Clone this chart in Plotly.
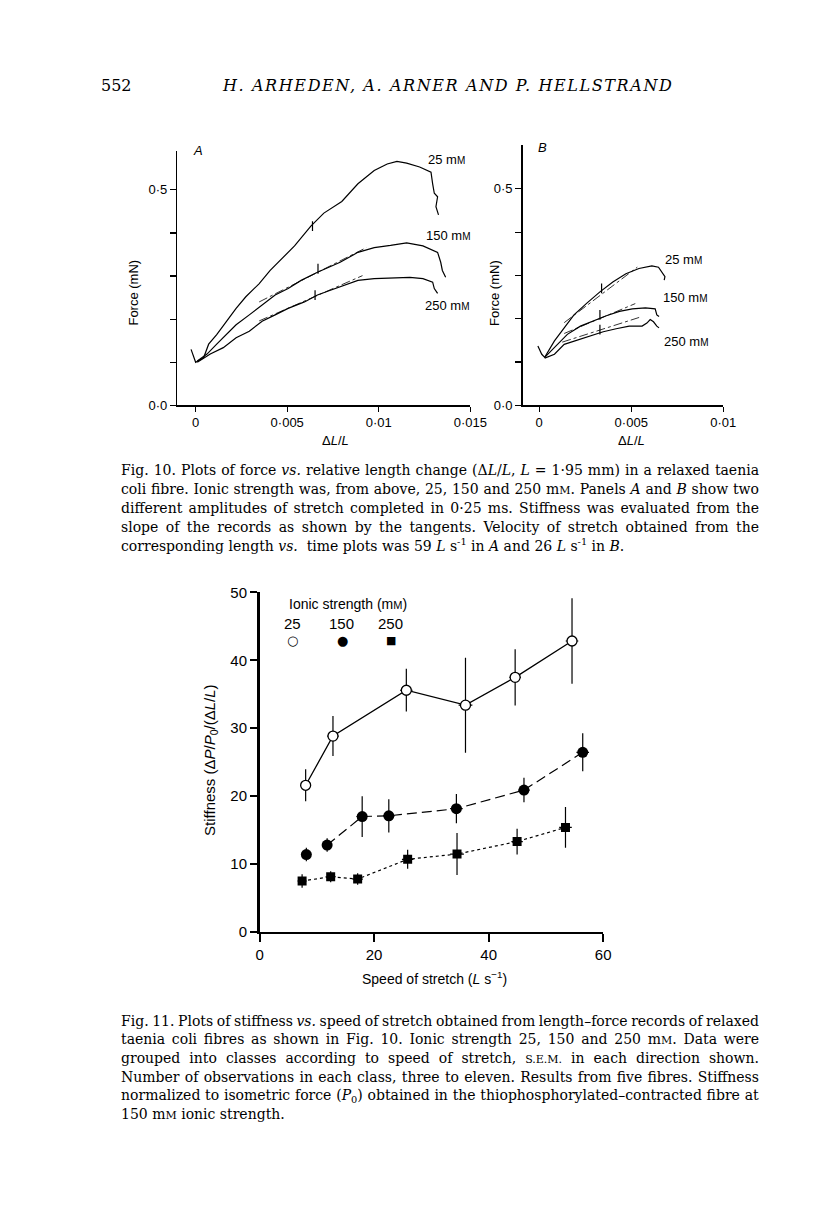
import json
import plotly.graph_objects as go

W, H = 816, 1219

# ---------------- Fig. 10 A : force (mN) vs ΔL/L ----------------
a25_x = [-0.00025, -0.00009, 0.0, 0.00044, 0.00071, 0.00115, 0.00168, 0.00221, 0.00274, 0.00346,
         0.00407, 0.00470, 0.00540, 0.00629, 0.00700, 0.00798, 0.00886, 0.00975, 0.01046, 0.01099,
         0.01152, 0.01223, 0.01285, 0.01294, 0.01303, 0.01321, 0.01312, 0.01326]
a25_y = [0.130, 0.107, 0.100, 0.111, 0.142, 0.164, 0.195, 0.225, 0.252, 0.282,
         0.313, 0.339, 0.370, 0.416, 0.446, 0.473, 0.514, 0.545, 0.560, 0.566,
         0.562, 0.553, 0.541, 0.514, 0.492, 0.484, 0.461, 0.442]
a150_x = [0.00009, 0.00062, 0.00115, 0.00168, 0.00221, 0.00293, 0.00363, 0.00434, 0.00505, 0.00576,
          0.00665, 0.00789, 0.00886, 0.00975, 0.01064, 0.01152, 0.01241, 0.01321, 0.01338, 0.01347, 0.01365]
a150_y = [0.103, 0.119, 0.142, 0.164, 0.187, 0.210, 0.233, 0.256, 0.271, 0.290,
          0.309, 0.332, 0.355, 0.366, 0.371, 0.377, 0.370, 0.355, 0.332, 0.313, 0.297]
a250_x = [0.00009, 0.00080, 0.00151, 0.00221, 0.00293, 0.00363, 0.00434, 0.00505, 0.00594, 0.00665,
          0.00736, 0.00789, 0.00886, 0.00975, 0.01064, 0.01170, 0.01241, 0.01294, 0.01303, 0.01321]
a250_y = [0.100, 0.119, 0.134, 0.157, 0.172, 0.195, 0.210, 0.225, 0.240, 0.256,
          0.267, 0.275, 0.290, 0.294, 0.295, 0.297, 0.294, 0.286, 0.271, 0.260]
a_tan150_x = [0.00347, 0.00932]
a_tan150_y = [0.240, 0.366]
a_tan250_x = [0.00347, 0.00911]
a_tan250_y = [0.196, 0.301]
a_mark_x = [0.00638, 0.00668, 0.00652]
a_mark_y = [0.416, 0.317, 0.256]

# ---------------- Fig. 10 B ----------------
b25_x = [-0.00007, 0.00014, 0.00030, 0.00083, 0.00136, 0.00189, 0.00259, 0.00330, 0.00400, 0.00471,
         0.00542, 0.00612, 0.00648, 0.00665, 0.00683, 0.00679]
b25_y = [0.137, 0.118, 0.111, 0.149, 0.179, 0.209, 0.236, 0.262, 0.285, 0.304,
         0.316, 0.322, 0.319, 0.308, 0.297, 0.289]
b150_x = [0.00030, 0.00101, 0.00153, 0.00224, 0.00295, 0.00365, 0.00436, 0.00506, 0.00577, 0.00630,
          0.00639, 0.00651]
b150_y = [0.111, 0.141, 0.164, 0.183, 0.196, 0.207, 0.217, 0.223, 0.225, 0.223, 0.209, 0.205]
b250_x = [0.00030, 0.00083, 0.00136, 0.00206, 0.00277, 0.00348, 0.00418, 0.00489, 0.00559, 0.00585,
          0.00603, 0.00621, 0.00639, 0.00651]
b250_y = [0.109, 0.118, 0.141, 0.150, 0.160, 0.170, 0.177, 0.183, 0.183, 0.190,
          0.198, 0.193, 0.183, 0.179]
b_tan25_x = [0.00136, 0.00533]
b_tan25_y = [0.191, 0.319]
b_tan150_x = [0.00136, 0.00522]
b_tan150_y = [0.166, 0.235]
b_tan250_x = [0.00125, 0.00543]
b_tan250_y = [0.146, 0.203]
b_mark_x = [0.00339, 0.00330, 0.00330]
b_mark_y = [0.270, 0.209, 0.175]

# ---------------- Fig. 11 : stiffness vs speed of stretch ----------------
s25_x = [8.05, 12.82, 25.63, 35.96, 44.63, 54.56]
s25_y = [21.6, 28.85, 35.6, 33.4, 37.5, 42.85]
s25_ey = [2.35, 2.95, 3.15, 7.0, 4.15, 6.3]
s25_ex = [0.8, 1.0, 1.1, 1.2, 1.0, 1.1]

s150_x = [8.17, 11.80, 17.92, 22.57, 34.37, 46.17, 56.43]
s150_y = [11.4, 12.8, 17.0, 17.1, 18.15, 20.9, 26.45]
s150_ey = [1.0, 1.0, 3.0, 2.45, 2.15, 1.8, 2.8]
s150_ex = [0.6, 0.8, 1.0, 1.0, 1.1, 1.0, 1.1]

s250_x = [7.43, 12.42, 17.13, 25.86, 34.48, 44.97, 53.42]
s250_y = [7.5, 8.13, 7.79, 10.7, 11.47, 13.31, 15.39]
s250_ey = [1.0, 0.8, 0.85, 1.4, 3.1, 1.9, 3.0]
s250_ex = [0.8, 0.9, 0.9, 1.0, 1.2, 1.0, 1.1]

a_xticks = [0, 0.005, 0.01, 0.015]
a_xtext = ["0", "0·005", "0·01", "0·015"]
b_xticks = [0, 0.005, 0.01]
b_xtext = ["0", "0·005", "0·01"]
f_yticks = [0, 0.5]
f_ytext = ["0·0", "0·5"]
s_xticks = [0, 20, 40, 60]
s_yticks = [0, 10, 20, 30, 40, 50]

SANS = "Liberation Sans"
SERIF = "DejaVu Serif"
MM = "m<span style='font-size:10px'>M</span>"
MM14 = "m<span style='font-size:11px'>M</span>"


def px(x):
    return x / W


def py(y):
    return 1 - y / H


fig = go.Figure()

rec = dict(mode="lines", line=dict(color="black", width=1.2), hoverinfo="skip")
tan = dict(mode="lines", line=dict(color="black", width=0.8, dash="dashdot"), hoverinfo="skip")
mk = dict(mode="markers", marker=dict(symbol="line-ns", size=7, line=dict(color="black", width=1.2)))

for xs, ys in [(a25_x, a25_y), (a150_x, a150_y), (a250_x, a250_y)]:
    fig.add_trace(go.Scatter(x=xs, y=ys, xaxis="x", yaxis="y", **rec))
for xs, ys in [(a_tan150_x, a_tan150_y), (a_tan250_x, a_tan250_y)]:
    fig.add_trace(go.Scatter(x=xs, y=ys, xaxis="x", yaxis="y", **tan))
fig.add_trace(go.Scatter(x=a_mark_x, y=a_mark_y, xaxis="x", yaxis="y", **mk))

for xs, ys in [(b25_x, b25_y), (b150_x, b150_y), (b250_x, b250_y)]:
    fig.add_trace(go.Scatter(x=xs, y=ys, xaxis="x2", yaxis="y2", **rec))
for xs, ys in [(b_tan25_x, b_tan25_y), (b_tan150_x, b_tan150_y), (b_tan250_x, b_tan250_y)]:
    fig.add_trace(go.Scatter(x=xs, y=ys, xaxis="x2", yaxis="y2", **tan))
fig.add_trace(go.Scatter(x=b_mark_x, y=b_mark_y, xaxis="x2", yaxis="y2", **mk))

fig.add_trace(go.Scatter(x=s25_x, y=s25_y, xaxis="x3", yaxis="y3", mode="lines",
                         line=dict(color="black", width=1.3)))
fig.add_trace(go.Scatter(x=s150_x[1:], y=s150_y[1:], xaxis="x3", yaxis="y3", mode="lines",
                         line=dict(color="black", width=1.2, dash="10px,5px")))
fig.add_trace(go.Scatter(x=s250_x, y=s250_y, xaxis="x3", yaxis="y3", mode="lines",
                         line=dict(color="black", width=1.2, dash="3px,3px")))


def err(vals):
    return dict(type="data", array=vals, visible=True, color="black", thickness=1.2, width=0)


fig.add_trace(go.Scatter(x=s25_x, y=s25_y, xaxis="x3", yaxis="y3", mode="markers",
                         error_y=err(s25_ey), error_x=err(s25_ex),
                         marker=dict(symbol="circle", size=10, color="white",
                                     line=dict(color="black", width=1.3))))
fig.add_trace(go.Scatter(x=s150_x, y=s150_y, xaxis="x3", yaxis="y3", mode="markers",
                         error_y=err(s150_ey), error_x=err(s150_ex),
                         marker=dict(symbol="circle", size=11, color="black")))
fig.add_trace(go.Scatter(x=s250_x, y=s250_y, xaxis="x3", yaxis="y3", mode="markers",
                         error_y=err(s250_ey), error_x=err(s250_ex),
                         marker=dict(symbol="square", size=9, color="black")))

ax_common = dict(showline=True, linecolor="black", showgrid=False, zeroline=False,
                 ticks="outside", tickcolor="black", color="black", fixedrange=True)
minor_f = dict(tickvals=[0.1, 0.2, 0.3, 0.4], ticks="outside", ticklen=6, tickwidth=1.2,
               tickcolor="black", showgrid=False)

fig.update_layout(
    width=W, height=H, autosize=False,
    margin=dict(l=0, r=0, t=0, b=0, pad=0),
    paper_bgcolor="white", plot_bgcolor="rgba(0,0,0,0)",
    showlegend=False,
    font=dict(family=SANS, color="black"),
    xaxis=dict(domain=[px(177.9), px(478.7)], range=[-0.001, 0.015], anchor="y",
               tickvals=a_xticks, ticktext=a_xtext, linewidth=1.5, ticklen=5, tickwidth=1.2,
               tickfont=dict(size=13, family=SANS), **ax_common),
    yaxis=dict(domain=[py(402), py(143.6)], range=[0, 0.591], anchor="x",
               tickvals=f_yticks, ticktext=f_ytext, linewidth=1.5, ticklen=6, tickwidth=1.2,
               minor=minor_f, tickfont=dict(size=13, family=SANS), **ax_common),
    xaxis2=dict(domain=[px(532.3), px(738.3)], range=[-0.0009, 0.01], anchor="y2",
                tickvals=b_xticks, ticktext=b_xtext, linewidth=1.5, ticklen=5, tickwidth=1.2,
                tickfont=dict(size=13, family=SANS), **ax_common),
    yaxis2=dict(domain=[py(402), py(138.4)], range=[0, 0.6], anchor="x2",
                tickvals=f_yticks, ticktext=f_ytext, linewidth=1.5, ticklen=6, tickwidth=1.2,
                minor=minor_f, tickfont=dict(size=13, family=SANS), **ax_common),
    xaxis3=dict(domain=[px(262.3), px(615)], range=[0, 60], anchor="y3",
                tickvals=s_xticks, linewidth=2.5, ticklen=8, tickwidth=2,
                tickfont=dict(size=15, family=SANS), **ax_common),
    yaxis3=dict(domain=[py(936), py(591.7)], range=[0, 50], anchor="x3",
                tickvals=s_yticks, linewidth=2.5, ticklen=7, tickwidth=2,
                tickfont=dict(size=15, family=SANS), **ax_common),
)

ann = []
justify = []  # (annotation index, left px, right px, mode)


def A(x, y, text, size=13, family=SANS, xanchor="center", yanchor="middle", angle=0):
    ann.append(dict(x=px(x), y=py(y), xref="paper", yref="paper", text=text, showarrow=False,
                    xanchor=xanchor, yanchor=yanchor, textangle=angle,
                    font=dict(size=size, family=family, color="black")))
    return len(ann) - 1


# page header
A(98, 78, "552", size=16, family=SERIF, xanchor="left")
i = A(222, 78, "<i>H. ARHEDEN, A. ARNER AND P. HELLSTRAND</i>", size=16, family=SERIF, xanchor="left")
justify.append([i, 222, 672, "letter"])

# Fig 10 labels
A(199, 143, "<i>A</i>", size=13)
A(553, 140, "<i>B</i>", size=13)
A(133, 288, "Force (mN)", size=13, angle=-90)
A(504, 288, "Force (mN)", size=13, angle=-90)
A(340, 438, "Δ<i>L</i>/<i>L</i>", size=13)
A(644, 438, "Δ<i>L</i>/<i>L</i>", size=13)
A(433, 153, "25 " + MM, size=13, xanchor="left")
A(431, 230, "150 " + MM, size=13, xanchor="left")
A(430, 301, "250 " + MM, size=13, xanchor="left")
A(676, 254, "25 " + MM, size=13, xanchor="left")
A(674, 293, "150 " + MM, size=13, xanchor="left")
A(675, 337, "250 " + MM, size=13, xanchor="left")

# Fig 11 labels
A(290, 603, "Ionic strength (" + MM14 + ")", size=14, xanchor="left")
A(296, 623, "25", size=15)
A(346, 623, "150", size=15)
A(397, 623, "250", size=15)
A(296, 640, "○", size=13, family="DejaVu Sans")
A(347, 640, "●", size=13, family="DejaVu Sans")
A(397, 640, "■", size=11, family="DejaVu Sans")
A(212, 762, "Stiffness (Δ<i>P</i>/<i>P</i><sub>0</sub>/(Δ<i>L</i>/<i>L</i>)", size=15, angle=-90)
A(442, 983, "Speed of stretch (<i>L</i> s<sup>−1</sup>)", size=14)

# captions
SM = "m<span style='font-size:11px'>M</span>"
cap10 = [
    "Fig. 10. Plots of force <i>vs.</i> relative length change (Δ<i>L</i>/<i>L</i>, <i>L</i> = 1·95 mm) in a relaxed taenia",
    "coli fibre. Ionic strength was, from above, 25, 150 and 250 " + SM + ". Panels <i>A</i> and <i>B</i> show two",
    "different amplitudes of stretch completed in 0·25 ms. Stiffness was evaluated from the",
    "slope of the records as shown by the tangents. Velocity of stretch obtained from the",
    "corresponding length <i>vs.</i>  time plots was 59 <i>L</i> s<sup>-1</sup> in <i>A</i> and 26 <i>L</i> s<sup>-1</sup> in <i>B</i>.",
]
cap11 = [
    "Fig. 11. Plots of stiffness <i>vs.</i> speed of stretch obtained from length–force records of relaxed",
    "taenia coli fibres as shown in Fig. 10. Ionic strength 25, 150 and 250 " + SM + ". Data were",
    "grouped into classes according to speed of stretch, <span style='font-size:11px'>S.E.M.</span> in each direction shown.",
    "Number of observations in each class, three to eleven. Results from five fibres. Stiffness",
    "normalized to isometric force (<i>P</i><sub>0</sub>) obtained in the thiophosphorylated–contracted fibre at",
    "150 " + SM + " ionic strength.",
]
CAP_L, CAP_R = 118, 756
for k, line in enumerate(cap10):
    i = A(CAP_L, 468 + 19 * k, line, size=14, family=SERIF, xanchor="left")
    if k < len(cap10) - 1:
        justify.append([i, CAP_L, CAP_R, "word"])
for k, line in enumerate(cap11):
    i = A(CAP_L, 1026 + 19 * k, line, size=14, family=SERIF, xanchor="left")
    if k < len(cap11) - 1:
        justify.append([i, CAP_L, CAP_R, "word"])

fig.update_layout(annotations=ann)

post = """
document.body.style.margin = '0';
try {
  var gd = document.querySelector('.js-plotly-plot');
  var jobs = %s;
  jobs.forEach(function (j) {
    var g = gd.querySelector('g.annotation[data-index="' + j[0] + '"]');
    if (!g) return;
    var t = g.querySelector('text.annotation-text');
    if (!t) return;
    var bb = t.getBBox();
    var target = j[2] - j[1];
    var txt = t.textContent;
    if (j[3] === 'word') {
      var n = (txt.match(/ /g) || []).length;
      if (!n) return;
      t.style.wordSpacing = ((target - bb.width) / n) + 'px';
    } else {
      var m = txt.length - 1;
      if (m < 1) return;
      t.style.letterSpacing = ((target - bb.width) / m) + 'px';
    }
    var bb2 = t.getBBox();
    var old = t.getAttribute('transform') || '';
    t.setAttribute('transform', old + ' translate(' + (bb.x - bb2.x) + ',0)');
  });
} catch (e) {}
""" % json.dumps(justify)

fig.write_html("out.html", post_script=post, config={"displayModeBar": False, "staticPlot": True})
